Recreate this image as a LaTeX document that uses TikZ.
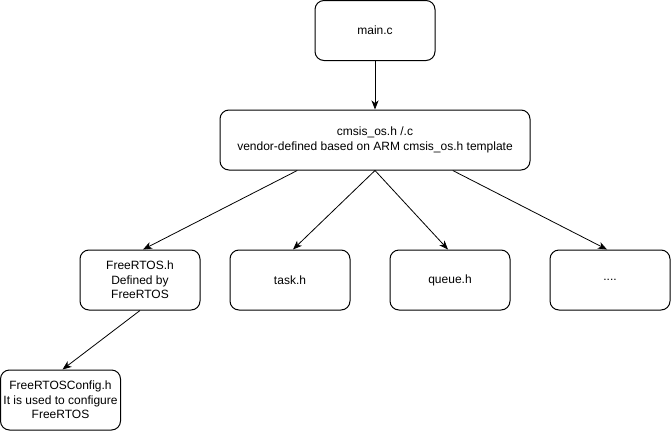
\documentclass[tikz,border=0pt]{standalone}
\usepackage{fontspec}
\setmainfont{Liberation Sans}
\usetikzlibrary{arrows.meta,calc}
\begin{document}
\begin{tikzpicture}[x=1pt,y=-1pt,
  box/.style={draw=black,line width=1pt,rounded corners=9pt,fill=white,
    minimum height=60pt,inner sep=0pt,align=center,
    font=\fontsize{12}{14.4}\selectfont},
  conn/.style={line width=0.8pt,-{Stealth[length=9pt,width=7pt,inset=2.5pt]}}]
\useasboundingbox (0,0) rectangle (671,431);
\node[box,minimum width=120pt] (main) at (375,30.5) {main.c};
\node[box,minimum width=310pt] (cmsis) at (375,140) {cmsis\_os.h /.c\\vendor-defined based on ARM cmsis\_os.h template};
\node[box,minimum width=120pt] (frh) at (140,280) {FreeRTOS.h\\Defined by\\FreeRTOS};
\node[box,minimum width=120pt] (task) at (290,280) {task.h};
\node[box,minimum width=120pt] (queue) at (450,280) {queue.h};
\node[box,minimum width=120pt] (dots) at (610,280) {....};
\node[box,minimum width=120pt] (cfg) at (60.5,400) {FreeRTOSConfig.h\\It is used to configure\\FreeRTOS};
\draw[conn] (main.south) -- (cmsis.north);
\draw[conn] ($(cmsis.south west)!0.25!(cmsis.south east)$) -- ([xshift=3pt]frh.north);
\draw[conn] (cmsis.south) -- ([xshift=3pt]task.north);
\draw[conn] (cmsis.south) -- ([xshift=-2pt]queue.north);
\draw[conn] ($(cmsis.south west)!0.75!(cmsis.south east)$) -- ([xshift=-3pt]dots.north);
\draw[conn] (frh.south) -- ([xshift=2pt]cfg.north);
\end{tikzpicture}
\end{document}
